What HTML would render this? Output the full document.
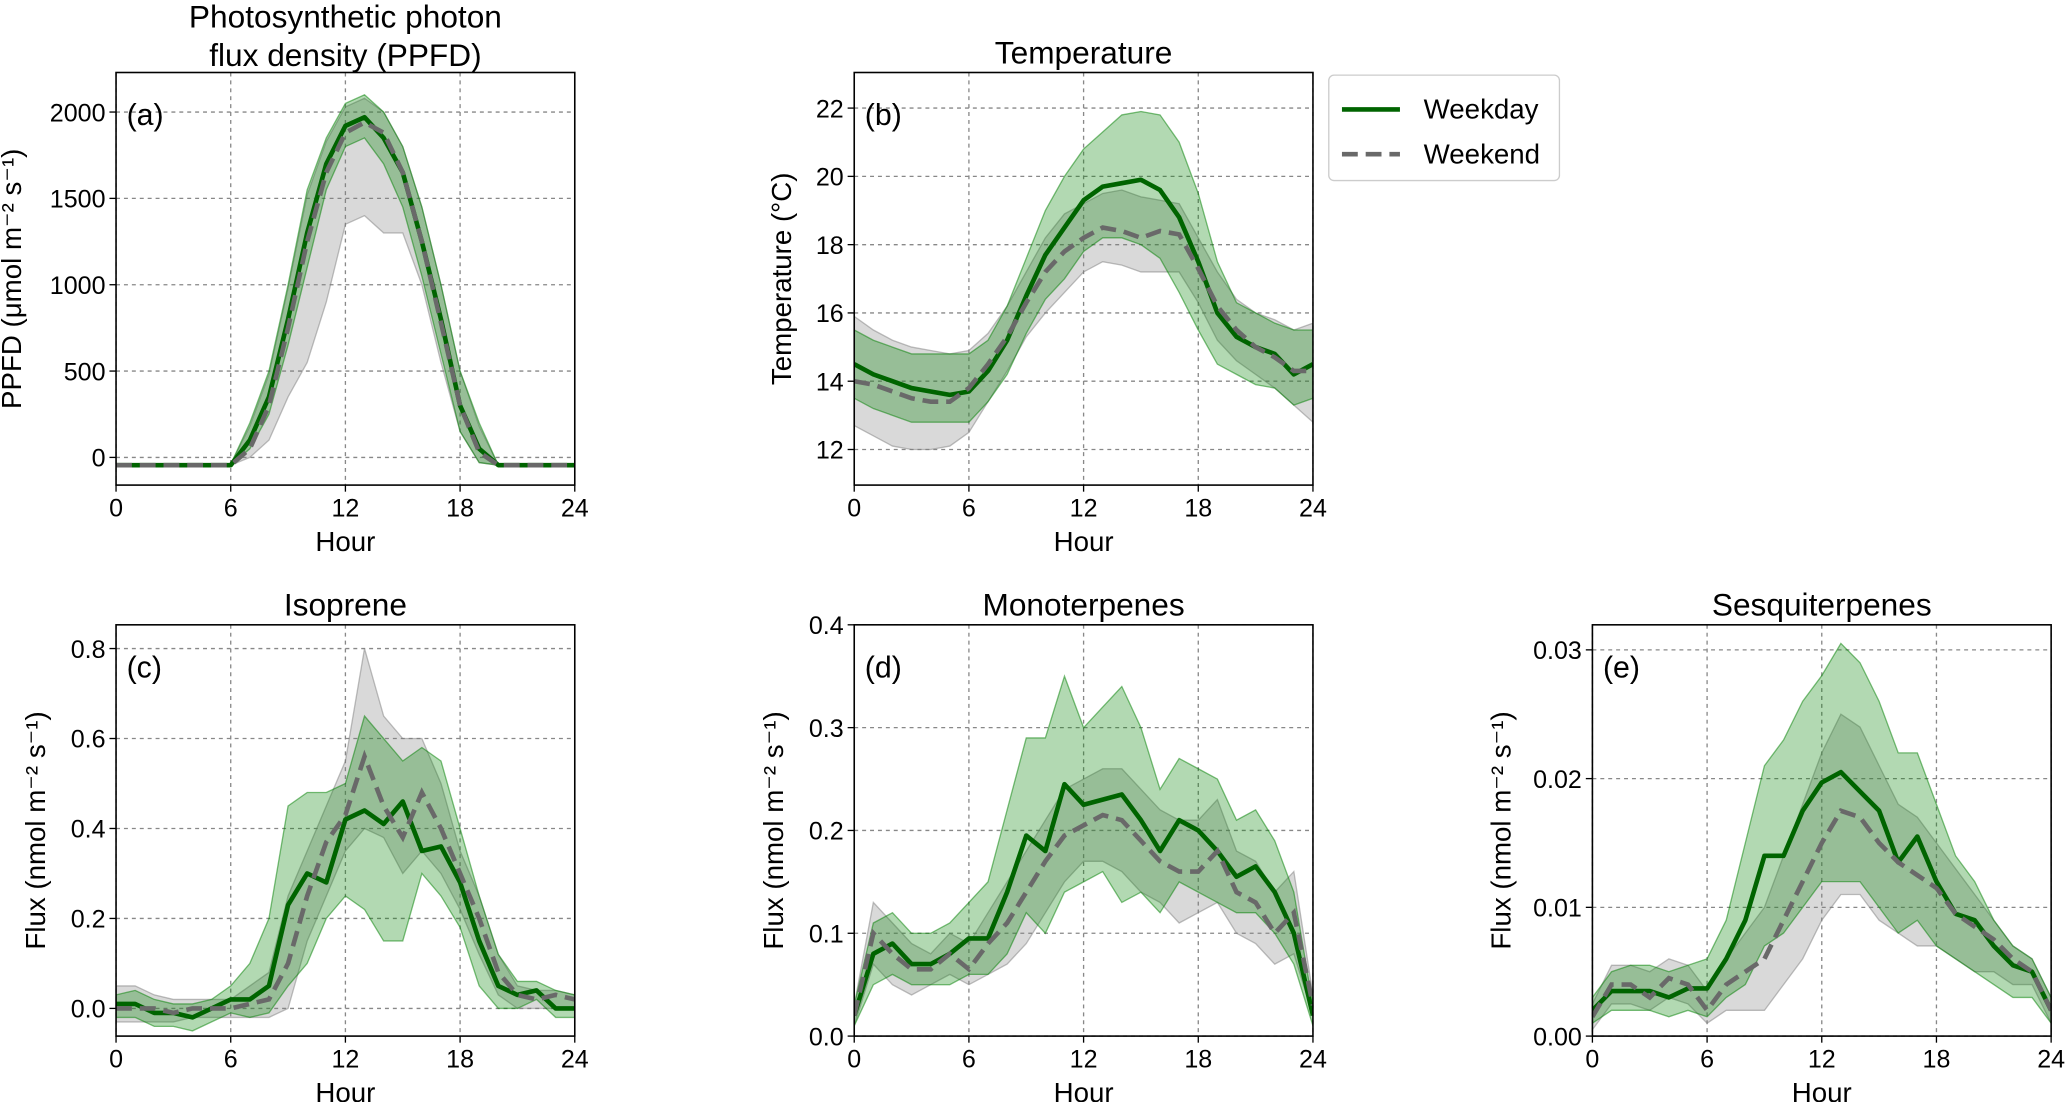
<!DOCTYPE html>
<html><head><meta charset="utf-8"><style>
html,body{margin:0;padding:0;background:#fff}
svg{display:block;font-family:"Liberation Sans",sans-serif}
</style></head><body>
<svg id="chart" xmlns="http://www.w3.org/2000/svg" width="2067" height="1102" viewBox="0 0 1568 836"></svg>
<script>
const hours=[0,1,2,3,4,5,6,7,8,9,10,11,12,13,14,15,16,17,18,19,20,21,22,23,24];
const xTicks=[0,6,12,18,24];
// PPFD
const ppfdWd=[-45,-45,-45,-45,-45,-45,-45,100,350,800,1300,1700,1920,1970,1850,1650,1250,800,300,50,-45,-45,-45,-45,-45];
const ppfdWe=[-45,-45,-45,-45,-45,-45,-45,50,300,750,1250,1650,1880,1940,1880,1650,1250,780,300,30,-45,-45,-45,-45,-45];
const ppfdWdUp=[-45,-45,-45,-45,-45,-45,-40,200,500,1000,1550,1850,2050,2100,2000,1800,1450,1000,500,200,-45,-45,-45,-45,-45];
const ppfdWdLo=[-45,-45,-45,-45,-45,-45,-45,50,250,650,1100,1550,1800,1850,1700,1450,1050,600,150,-30,-45,-45,-45,-45,-45];
const ppfdWeUp=[-45,-45,-45,-45,-45,-45,-40,180,480,980,1520,1830,2030,2080,2000,1800,1450,1000,500,180,-45,-45,-45,-45,-45];
const ppfdWeLo=[-45,-45,-45,-45,-45,-45,-45,0,100,350,550,900,1350,1400,1300,1300,1000,550,150,-30,-45,-45,-45,-45,-45];
const ppfdTicks=[0,500,1000,1500,2000];
// Temperature
const tWd=[14.5,14.2,14.0,13.8,13.7,13.6,13.7,14.3,15.2,16.5,17.7,18.5,19.3,19.7,19.8,19.9,19.6,18.8,17.5,16.0,15.3,15.0,14.8,14.2,14.5];
const tWe=[14.0,13.9,13.7,13.5,13.4,13.4,13.8,14.5,15.3,16.3,17.2,17.8,18.2,18.5,18.4,18.2,18.4,18.3,17.3,16.2,15.5,15.0,14.7,14.3,14.3];
const tWdUp=[15.5,15.2,15.0,14.8,14.8,14.8,14.8,15.2,16.2,17.6,19.0,20.0,20.8,21.3,21.8,21.9,21.8,21.0,19.5,17.5,16.3,16.0,15.7,15.5,15.5];
const tWdLo=[13.5,13.2,13.0,12.8,12.8,12.8,12.8,13.4,14.2,15.4,16.4,17.0,17.8,18.2,18.2,18.0,17.6,16.6,15.5,14.5,14.2,13.9,13.8,13.3,13.5];
const tWeUp=[15.9,15.5,15.2,15.0,14.9,14.8,14.9,15.4,16.2,17.2,18.2,18.9,19.2,19.5,19.6,19.4,19.3,19.2,18.2,17.2,16.4,16.0,15.8,15.5,15.7];
const tWeLo=[12.7,12.4,12.1,12.0,12.0,12.1,12.5,13.4,14.3,15.3,16.0,16.6,17.2,17.5,17.4,17.2,17.2,17.2,16.3,15.2,14.6,14.2,13.8,13.3,12.8];
const tTicks=[12,14,16,18,20,22];
// Isoprene
const isoWd=[0.01,0.01,-0.01,-0.01,-0.02,0.0,0.02,0.02,0.05,0.23,0.30,0.28,0.42,0.44,0.41,0.46,0.35,0.36,0.28,0.15,0.05,0.03,0.04,0.0,0.0];
const isoWe=[0.0,0.0,0.0,-0.01,0.0,0.0,0.0,0.01,0.02,0.10,0.25,0.37,0.43,0.56,0.45,0.38,0.48,0.40,0.30,0.20,0.08,0.03,0.02,0.03,0.02];
const isoWdUp=[0.03,0.04,0.02,0.01,0.01,0.02,0.05,0.10,0.20,0.45,0.48,0.48,0.50,0.65,0.60,0.55,0.58,0.55,0.40,0.25,0.12,0.06,0.06,0.04,0.03];
const isoWdLo=[-0.02,-0.02,-0.04,-0.04,-0.05,-0.03,-0.01,-0.02,-0.01,0.05,0.10,0.20,0.25,0.22,0.15,0.15,0.30,0.25,0.18,0.05,0.0,0.0,0.02,-0.02,-0.02];
const isoWeUp=[0.05,0.05,0.03,0.02,0.02,0.02,0.02,0.05,0.08,0.25,0.35,0.45,0.55,0.80,0.65,0.60,0.60,0.50,0.35,0.25,0.12,0.05,0.04,0.04,0.03];
const isoWeLo=[-0.03,-0.03,-0.03,-0.03,-0.02,-0.02,-0.02,-0.02,-0.02,0.0,0.15,0.25,0.35,0.40,0.38,0.30,0.35,0.30,0.22,0.12,0.03,0.0,0.0,0.0,0.0];
const isoTicks=[0.0,0.2,0.4,0.6,0.8];
// Monoterpenes
const monoWd=[0.02,0.08,0.09,0.07,0.07,0.08,0.095,0.095,0.14,0.195,0.18,0.245,0.225,0.23,0.235,0.21,0.18,0.21,0.20,0.18,0.155,0.165,0.14,0.10,0.02];
const monoWe=[0.02,0.10,0.08,0.065,0.065,0.08,0.065,0.09,0.11,0.14,0.17,0.195,0.205,0.215,0.21,0.19,0.17,0.16,0.16,0.18,0.14,0.13,0.10,0.12,0.03];
const monoWdUp=[0.03,0.11,0.12,0.10,0.10,0.11,0.13,0.15,0.22,0.29,0.29,0.35,0.30,0.32,0.34,0.30,0.24,0.27,0.26,0.25,0.21,0.22,0.19,0.14,0.03];
const monoWdLo=[0.01,0.05,0.06,0.05,0.05,0.05,0.06,0.06,0.08,0.12,0.10,0.14,0.15,0.16,0.13,0.14,0.12,0.15,0.14,0.13,0.12,0.12,0.10,0.07,0.01];
const monoWeUp=[0.03,0.13,0.11,0.09,0.08,0.10,0.09,0.12,0.15,0.18,0.21,0.24,0.25,0.26,0.26,0.24,0.22,0.21,0.21,0.23,0.18,0.17,0.14,0.16,0.04];
const monoWeLo=[0.01,0.07,0.05,0.04,0.05,0.06,0.05,0.06,0.07,0.09,0.12,0.15,0.17,0.17,0.16,0.14,0.13,0.11,0.12,0.13,0.10,0.09,0.07,0.08,0.02];
const monoTicks=[0.0,0.1,0.2,0.3,0.4];
// Sesquiterpenes
const sesqWd=[0.002,0.0035,0.0035,0.0035,0.003,0.0037,0.0037,0.006,0.009,0.014,0.014,0.0175,0.0197,0.0205,0.019,0.0175,0.0135,0.0155,0.012,0.0095,0.009,0.007,0.0055,0.005,0.002];
const sesqWe=[0.0015,0.004,0.004,0.003,0.0045,0.004,0.002,0.004,0.005,0.006,0.009,0.012,0.015,0.0175,0.017,0.015,0.0135,0.0125,0.0115,0.0095,0.0085,0.0075,0.006,0.005,0.002];
const sesqWdUp=[0.003,0.005,0.0055,0.0055,0.005,0.0055,0.006,0.009,0.015,0.021,0.023,0.026,0.028,0.0305,0.029,0.026,0.022,0.022,0.018,0.014,0.012,0.009,0.007,0.006,0.003];
const sesqWdLo=[0.001,0.002,0.002,0.002,0.0015,0.002,0.0015,0.003,0.004,0.007,0.008,0.010,0.012,0.012,0.012,0.010,0.008,0.009,0.007,0.006,0.005,0.004,0.003,0.003,0.001];
const sesqWeUp=[0.0025,0.0055,0.0055,0.005,0.006,0.0055,0.0035,0.006,0.008,0.010,0.014,0.018,0.022,0.025,0.024,0.021,0.018,0.017,0.015,0.013,0.011,0.009,0.007,0.006,0.003];
const sesqWeLo=[0.0005,0.0025,0.0025,0.002,0.003,0.0025,0.001,0.002,0.002,0.002,0.004,0.006,0.009,0.011,0.011,0.009,0.008,0.007,0.007,0.006,0.005,0.005,0.004,0.004,0.001];
const sesqTicks=[0.00,0.01,0.02,0.03];

const NS="http://www.w3.org/2000/svg";
const svg=document.getElementById('chart');
function el(tag,attrs,parent,text){const e=document.createElementNS(NS,tag);for(const k in attrs)e.setAttribute(k,attrs[k]);if(text!==undefined)e.textContent=text;(parent||svg).appendChild(e);return e;}

const panels=[
 {id:'a',x0:88,x1:436,top:55,bot:368,vA:0,pA:347,vB:2000,pB:85,ticks:ppfdTicks,fmt:v=>String(v),title:['Photosynthetic photon','flux density (PPFD)'],ylabel:'PPFD (μmol m⁻² s⁻¹)',ylx:16,wd:ppfdWd,we:ppfdWe,wdU:ppfdWdUp,wdL:ppfdWdLo,weU:ppfdWeUp,weL:ppfdWeLo},
 {id:'b',x0:648,x1:996,top:55,bot:368,vA:12,pA:341,vB:22,pB:82,ticks:tTicks,fmt:v=>String(v),title:['Temperature'],ylabel:'Temperature (°C)',ylx:600,wd:tWd,we:tWe,wdU:tWdUp,wdL:tWdLo,weU:tWeUp,weL:tWeLo},
 {id:'c',x0:88,x1:436,top:474,bot:786,vA:0,pA:765,vB:0.8,pB:492,ticks:isoTicks,fmt:v=>v.toFixed(1),title:['Isoprene'],ylabel:'Flux (nmol m⁻² s⁻¹)',ylx:34,wd:isoWd,we:isoWe,wdU:isoWdUp,wdL:isoWdLo,weU:isoWeUp,weL:isoWeLo},
 {id:'d',x0:648,x1:996,top:474,bot:786,vA:0,pA:786,vB:0.4,pB:474,ticks:monoTicks,fmt:v=>v.toFixed(1),title:['Monoterpenes'],ylabel:'Flux (nmol m⁻² s⁻¹)',ylx:594,wd:monoWd,we:monoWe,wdU:monoWdUp,wdL:monoWdLo,weU:monoWeUp,weL:monoWeLo},
 {id:'e',x0:1208,x1:1556,top:474,bot:786,vA:0,pA:786,vB:0.03,pB:493,ticks:sesqTicks,fmt:v=>v.toFixed(2),title:['Sesquiterpenes'],ylabel:'Flux (nmol m⁻² s⁻¹)',ylx:1146,wd:sesqWd,we:sesqWe,wdU:sesqWdUp,wdL:sesqWdLo,weU:sesqWeUp,weL:sesqWeLo}
];

panels.forEach(p=>{
 const g=el('g',{});
 
 
 const xs=h=>p.x0+h*(p.x1-p.x0)/24;
 const ys=v=>p.pA+(v-p.vA)*(p.pB-p.pA)/(p.vB-p.vA);
 const cid='clip'+p.id;
 const cp=el('clipPath',{id:cid},g);
 el('rect',{x:p.x0,y:p.top,width:p.x1-p.x0,height:p.bot-p.top},cp);
 const grid=el('g',{},g);
 
 
 xTicks.forEach(t=>{el('line',{x1:xs(t),x2:xs(t),y1:p.top,y2:p.bot,stroke:'#888','stroke-width':1,'stroke-dasharray':'3,3'},grid);});
 p.ticks.forEach(t=>{el('line',{x1:p.x0,x2:p.x1,y1:ys(t),y2:ys(t),stroke:'#888','stroke-width':1,'stroke-dasharray':'3,3'},grid);});
 const data=el('g',{'clip-path':'url(#'+cid+')'},g);
 function band(up,lo,fill,name){
  let d='M'+hours.map((h,i)=>xs(h)+','+ys(up[i])).join('L');
  d+='L'+hours.slice().reverse().map((h,j)=>{const i=hours.length-1-j;return xs(h)+','+ys(lo[i]);}).join('L')+'Z';
  const b=el('path',{d:d,fill:fill,'fill-opacity':0.3,stroke:fill,'stroke-opacity':0.5,'stroke-width':1},data);
  
  
 }
 band(p.weU,p.weL,'#808080','weekend-band-'+p.id);
 band(p.wdU,p.wdL,'#008000','weekday-band-'+p.id);
 function line(vals,attrs,name){
  const d='M'+hours.map((h,i)=>xs(h)+','+ys(vals[i])).join('L');
  const l=el('path',Object.assign({d:d,fill:'none'},attrs),data);
  
  
 }
 line(p.wd,{stroke:'#006400','stroke-width':3.5,'stroke-linejoin':'round'},'weekday-line-'+p.id);
 line(p.we,{stroke:'#696969','stroke-width':3.5,'stroke-dasharray':'12,6'},'weekend-line-'+p.id);
 el('rect',{x:p.x0,y:p.top,width:p.x1-p.x0,height:p.bot-p.top,fill:'none',stroke:'#000','stroke-width':1.2},g);
 xTicks.forEach(t=>{
  el('line',{x1:xs(t),x2:xs(t),y1:p.bot,y2:p.bot+5,stroke:'#000','stroke-width':1},g);
  const tl=el('text',{x:xs(t),y:p.bot+24,'text-anchor':'middle','font-size':19},g,String(t));
  
  
 });
 p.ticks.forEach(t=>{
  el('line',{x1:p.x0-5,x2:p.x0,y1:ys(t),y2:ys(t),stroke:'#000','stroke-width':1},g);
  const tl=el('text',{x:p.x0-8,y:ys(t)+7,'text-anchor':'end','font-size':19},g,p.fmt(t));
  
  
 });
 const xl=el('text',{x:(p.x0+p.x1)/2,y:p.bot+50,'text-anchor':'middle','font-size':21},g,'Hour');
 
 
 const cy=(p.top+p.bot)/2;
 const yl=el('text',{x:p.ylx,y:cy,'text-anchor':'middle','font-size':21,transform:'rotate(-90 '+p.ylx+' '+cy+')'},g,p.ylabel);
 
 
 p.title.forEach((t,i)=>{
  const ty=p.title.length===2?(21+i*29):(p.top-7);
  const tt=el('text',{x:(p.x0+p.x1)/2,y:ty,'text-anchor':'middle','font-size':24},g,t);
  
  
 });
 const pl=el('text',{x:p.x0+8,y:p.top+40,'font-size':23},g,'('+p.id+')');
 
 
});
const lg=el('g',{});


el('rect',{x:1008,y:57,width:175,height:80,rx:4,fill:'#fff',stroke:'#ccc','stroke-width':1},lg);
el('line',{x1:1018,x2:1062,y1:83,y2:83,stroke:'#006400','stroke-width':3.5},lg);
el('line',{x1:1018,x2:1062,y1:117,y2:117,stroke:'#696969','stroke-width':3.5,'stroke-dasharray':'12,6'},lg);
const l1=el('text',{x:1080,y:90,'font-size':21},lg,'Weekday');


const l2=el('text',{x:1080,y:124,'font-size':21},lg,'Weekend');


</script>
</body></html>
